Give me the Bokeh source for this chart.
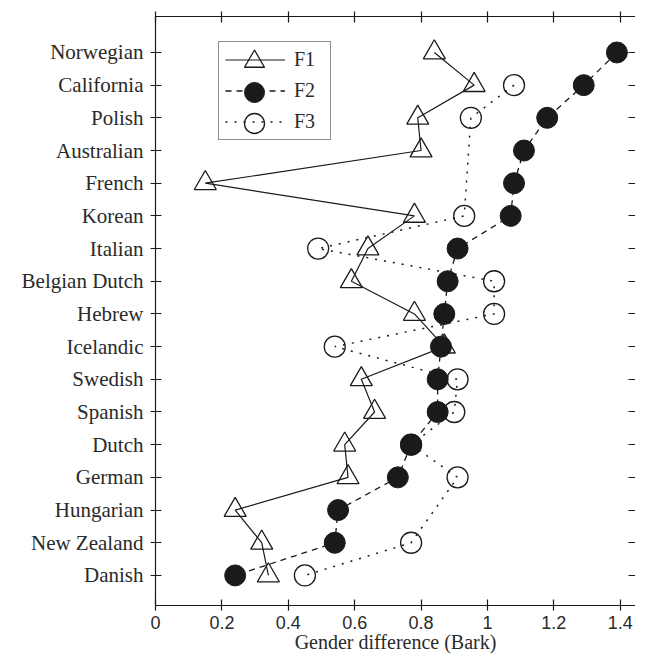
from bokeh.plotting import figure
from bokeh.models import Range1d, LinearAxis, FixedTicker, Legend, LegendItem
from bokeh.embed import file_html
from bokeh.resources import INLINE

# ---- data ----
languages = ["Norwegian", "California", "Polish", "Australian", "French", "Korean",
             "Italian", "Belgian Dutch", "Hebrew", "Icelandic", "Swedish", "Spanish",
             "Dutch", "German", "Hungarian", "New Zealand", "Danish"]
f1 = [0.84, 0.96, 0.79, 0.80, 0.15, 0.78, 0.64, 0.59, 0.78, 0.87, 0.62, 0.66,
      0.57, 0.58, 0.24, 0.32, 0.34]
f2 = [1.39, 1.29, 1.18, 1.11, 1.08, 1.07, 0.91, 0.88, 0.87, 0.86, 0.85, 0.85,
      0.77, 0.73, 0.55, 0.54, 0.24]
f3 = [None, 1.08, 0.95, None, None, 0.93, 0.49, 1.02, 1.02, 0.54, 0.91, 0.90,
      0.77, 0.91, None, 0.77, 0.45]
x_ticks = [0, 0.2, 0.4, 0.6, 0.8, 1.0, 1.2, 1.4]
x_tick_labels = ["0", "0.2", "0.4", "0.6", "0.8", "1", "1.2", "1.4"]
x_label = "Gender difference (Bark)"
series_names = ["F1", "F2", "F3"]

ypos = list(range(len(languages), 0, -1))
f3_x = [v for v in f3 if v is not None]
f3_y = [y for v, y in zip(f3, ypos) if v is not None]

INK = "#1a1a1a"
TXT = "#2a2a2a"
SERIF = "Liberation Serif"
SANS = "Liberation Sans"

W, H = 635, 655
TOP, LEFT = 16, 155

p = figure(width=W, height=H, output_backend="svg", toolbar_location=None,
           x_range=Range1d(0, 1.446), y_range=Range1d(0.08, 18.1),
           min_border_left=LEFT, min_border_right=0, min_border_top=TOP,
           min_border_bottom=0)
p.grid.visible = False
p.outline_line_color = None
p.background_fill_color = "white"
p.border_fill_color = "white"

# bottom axis
xa = p.xaxis[0]
xa.ticker = FixedTicker(ticks=x_ticks)
xa.major_label_overrides = dict(zip(x_ticks, x_tick_labels))
xa.minor_tick_line_color = None
xa.major_tick_in = 6
xa.major_tick_out = 5
xa.axis_line_color = INK
xa.major_tick_line_color = INK
xa.axis_line_width = 1.2
xa.major_tick_line_width = 1.2
xa.major_label_text_font = SANS
xa.major_label_text_font_size = "18px"
xa.major_label_text_color = TXT
xa.major_label_standoff = 5
xa.axis_label = x_label
xa.axis_label_text_font = SERIF
xa.axis_label_text_font_style = "normal"
xa.axis_label_text_font_size = "20px"
xa.axis_label_text_color = TXT
xa.axis_label_standoff = -1

# left axis
ya = p.yaxis[0]
ya.ticker = FixedTicker(ticks=ypos)
ya.major_label_overrides = dict(zip(ypos, languages))
ya.minor_tick_line_color = None
ya.major_tick_in = 6
ya.major_tick_out = 5
ya.axis_line_color = INK
ya.major_tick_line_color = INK
ya.axis_line_width = 1.2
ya.major_tick_line_width = 1.2
ya.major_label_text_font = SERIF
ya.major_label_text_font_size = "21px"
ya.major_label_text_color = TXT
ya.major_label_standoff = 7

# top axis (ticks only, no labels drawn)
top = LinearAxis(ticker=FixedTicker(ticks=x_ticks), major_label_text_color=None,
                 major_label_text_font_size="1px",
                 major_label_standoff=0, major_tick_in=6, major_tick_out=5,
                 minor_tick_line_color=None, axis_line_color=INK,
                 major_tick_line_color=INK, axis_line_width=1.2,
                 major_tick_line_width=1.2)
p.add_layout(top, "above")

# right axis (inward ticks only; its spine is off-canvas in the reference)
right = LinearAxis(ticker=FixedTicker(ticks=ypos), major_label_text_color=None,
                   major_label_text_font_size="1px",
                   major_label_standoff=0, major_tick_in=7, major_tick_out=0,
                   minor_tick_line_color=None, axis_line_color=None,
                   major_tick_line_color=INK, major_tick_line_width=1.2)
p.add_layout(right, "right")

# series
l1 = p.line(f1, ypos, line_color=INK, line_width=1.2)
s1 = p.scatter(f1, ypos, marker="triangle", size=22, fill_color=None,
               line_color=INK, line_width=1.3)
l3 = p.line(f3_x, f3_y, line_color=INK, line_width=1.5, line_dash="2 7")
s3 = p.scatter(f3_x, f3_y, marker="circle", size=21, fill_color=None,
               line_color=INK, line_width=1.3)
l2 = p.line(f2, ypos, line_color=INK, line_width=1.3, line_dash="6 5")
s2 = p.scatter(f2, ypos, marker="circle", size=21, fill_color=INK,
               line_color=INK, line_width=1.0)

# legend geometry (screen px from the frame's bottom-left corner)
FH = 588                 # expected frame height
PAD, ITEM, SP = 6, 23, 8
LEG_H = 2 * PAD + 3 * ITEM + 2 * SP
LEG_X = 63
LEG_TOP = 26             # distance of the legend box below the frame top
leg_y = FH - LEG_TOP - LEG_H

leg = Legend(items=[LegendItem(label=series_names[0], renderers=[l1]),
                    LegendItem(label=series_names[1], renderers=[l2]),
                    LegendItem(label=series_names[2], renderers=[l3])],
             location=(LEG_X, leg_y), padding=PAD, spacing=SP, glyph_width=60,
             glyph_height=ITEM, label_height=ITEM, label_width=30, label_standoff=9,
             label_text_font=SERIF, label_text_font_size="20px",
             label_text_color=TXT, border_line_color=INK,
             border_line_width=1.3, background_fill_color="white",
             background_fill_alpha=1.0, margin=0)
p.add_layout(leg, "center")

# larger legend markers overlaid, one transparent, label-less legend per series
MK = 50  # glyph box; legend markers are drawn at 0.4 of it
for k, r in enumerate([s1, s2, s3]):
    center = FH - LEG_TOP - PAD - ITEM / 2 - (ITEM + SP) * k
    lm = Legend(items=[LegendItem(label="", renderers=[r])],
                location=(LEG_X + PAD, center - MK / 2),
                padding=0, spacing=0, glyph_width=60, glyph_height=MK,
                label_text_color=None, label_width=0, label_standoff=0,
                label_text_font_size="1px",
                border_line_color=None, background_fill_alpha=0, margin=0)
    p.add_layout(lm, "center")

open("out.html", "w").write(file_html(p, INLINE))
